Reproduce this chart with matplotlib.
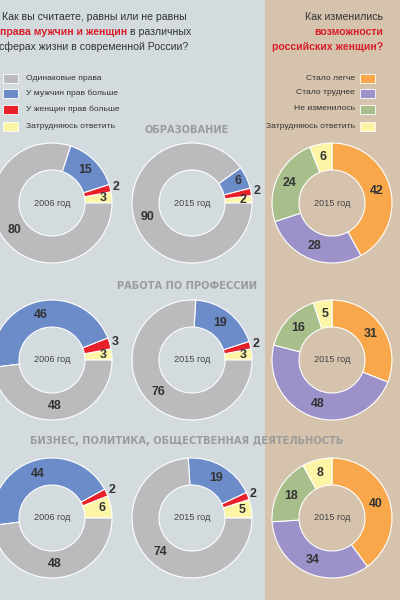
import matplotlib
matplotlib.use("Agg")
import matplotlib.pyplot as plt
from matplotlib.patches import Rectangle
import numpy as np

W, H = 400, 602

# ---- data ----
years = ["2006 год", "2015 год"]
rights_labels = ["Одинаковые права", "У мужчин прав больше", "У женщин прав больше", "Затрудняюсь ответить"]
change_labels = ["Стало легче", "Стало труднее", "Не изменилось", "Затрудняюсь ответить"]
sections = ["ОБРАЗОВАНИЕ", "РАБОТА ПО ПРОФЕССИИ", "БИЗНЕС, ПОЛИТИКА, ОБЩЕСТВЕННАЯ ДЕЯТЕЛЬНОСТЬ"]

# order: same, men more, women more, hard to say
rights_2006 = [[80, 15, 2, 3], [48, 46, 3, 3], [48, 44, 2, 6]]
rights_2015 = [[90, 6, 2, 2], [76, 19, 2, 3], [74, 19, 2, 5]]
# order: easier, harder, unchanged, hard to say
changes_2015 = [[42, 28, 24, 6], [31, 48, 16, 5], [40, 34, 18, 8]]

rights_colors = ["#bbbbbe", "#6b8bc9", "#e8202a", "#fbf5a5"]
change_colors = ["#f8a84b", "#9c91c8", "#a8bf8b", "#fbf5a5"]

BG_LEFT = "#d3dbdf"
BG_RIGHT = "#d6c3ad"
TXT = "#333333"
RED = "#d81e2a"
SEC = "#9b9b9b"

plt.rcParams['font.family'] = ['Liberation Sans', 'DejaVu Sans']

fig = plt.figure(figsize=(W / 100, H / 100), dpi=100)
fig.patch.set_facecolor("white")
ax = fig.add_axes([0, 0, 1, 1])

def Y(y):
    return H - y

ax.add_patch(Rectangle((0, Y(600)), 265, 600, facecolor=BG_LEFT, edgecolor="none", zorder=0))
ax.add_patch(Rectangle((265, Y(600)), 135, 600, facecolor=BG_RIGHT, edgecolor="none", zorder=0))

R = 60
WIDTH = 27
row_y = [203, 360, 518]
col_x = [52, 192, 332]
NUM_FS = 8.9
YEAR_FS = 6.6

def draw_rights(vals, cx, cy, year):
    # counterclockwise from 3 o'clock: hard-to-say, women, men, same
    order = [3, 2, 1, 0]
    v = [vals[i] for i in order]
    c = [rights_colors[i] for i in order]
    ax.pie(v, colors=c, startangle=0, counterclock=True, center=(cx, Y(cy)),
           radius=R, frame=True,
           wedgeprops=dict(width=WIDTH, edgecolor="white", linewidth=0.8))
    total = sum(v)
    cum = 0
    for val, idx in zip(v, order):
        mid = (cum + val / 2) / total * 360
        cum += val
        a = np.deg2rad(mid)
        if idx == 2:
            r = R + 6
        elif val <= 6:
            r = R - 9
        else:
            r = R - WIDTH / 2
        ax.text(cx + r * np.cos(a), Y(cy) + r * np.sin(a), str(val), ha="center", va="center",
                fontsize=NUM_FS, fontweight="bold", color=TXT, zorder=5)
    ax.text(cx, Y(cy), year, ha="center", va="center", fontsize=YEAR_FS, color="#444444", zorder=5)

def draw_changes(vals, cx, cy):
    ax.pie(vals, colors=change_colors, startangle=90, counterclock=False,
           center=(cx, Y(cy)), radius=R, frame=True,
           wedgeprops=dict(width=WIDTH, edgecolor="white", linewidth=0.8))
    total = sum(vals)
    cum = 0
    for val in vals:
        mid = 90 - (cum + val / 2) / total * 360
        cum += val
        a = np.deg2rad(mid)
        r = R - WIDTH / 2
        ax.text(cx + r * np.cos(a), Y(cy) + r * np.sin(a), str(val), ha="center", va="center",
                fontsize=NUM_FS, fontweight="bold", color=TXT, zorder=5)
    ax.text(cx, Y(cy), years[1], ha="center", va="center", fontsize=YEAR_FS, color="#444444", zorder=5)

for i in range(3):
    draw_rights(rights_2006[i], col_x[0], row_y[i], years[0])
    draw_rights(rights_2015[i], col_x[1], row_y[i], years[1])
    draw_changes(changes_2015[i], col_x[2], row_y[i])

ax.set_xlim(0, W)
ax.set_ylim(0, H)
ax.set_aspect("auto")
ax.axis("off")

# section titles
sec_y = [130, 286, 441]
for s, y in zip(sections, sec_y):
    ax.text(187, Y(y), s, ha="center", va="center", fontsize=7.1, fontweight="bold",
            color=SEC, family=['DejaVu Sans'], zorder=6)

# titles
tfs = 7.6
ax.text(2, Y(17), "Как вы считаете, равны или не равны", ha="left", va="center", fontsize=tfs, color=TXT)
t1 = ax.text(0, Y(32), "права мужчин и женщин", ha="left", va="center", fontsize=tfs,
             color=RED, fontweight="bold")
fig.canvas.draw()
bb = t1.get_window_extent()
x_end = ax.transData.inverted().transform((bb.x1, bb.y0))[0]
ax.text(x_end + 2.5, Y(32), "в различных", ha="left", va="center", fontsize=tfs, color=TXT)
ax.text(-1, Y(47), "сферах жизни в современной России?", ha="left", va="center", fontsize=tfs, color=TXT)

ax.text(383, Y(17), "Как изменились", ha="right", va="center", fontsize=tfs, color=TXT)
ax.text(383, Y(32), "возможности", ha="right", va="center", fontsize=tfs, color=RED, fontweight="bold")
ax.text(383, Y(47), "российских женщин?", ha="right", va="center", fontsize=tfs, color=RED, fontweight="bold")

# legends
lfs = 6.1
leg_y = [78, 93, 109, 126]
for lab, col, y in zip(rights_labels, rights_colors, leg_y):
    ax.add_patch(Rectangle((3, Y(y) - 4.5), 15, 9, facecolor=col, edgecolor="white", linewidth=0.6, zorder=4))
    ax.text(26, Y(y), lab, ha="left", va="center", fontsize=lfs, color=TXT)
for lab, col, y in zip(change_labels, change_colors, leg_y):
    ax.add_patch(Rectangle((360, Y(y) - 4.5), 15, 9, facecolor=col, edgecolor="white", linewidth=0.6, zorder=4))
    ax.text(355, Y(y), lab, ha="right", va="center", fontsize=lfs, color=TXT)

fig.savefig("out.png", dpi=100, facecolor="white")
